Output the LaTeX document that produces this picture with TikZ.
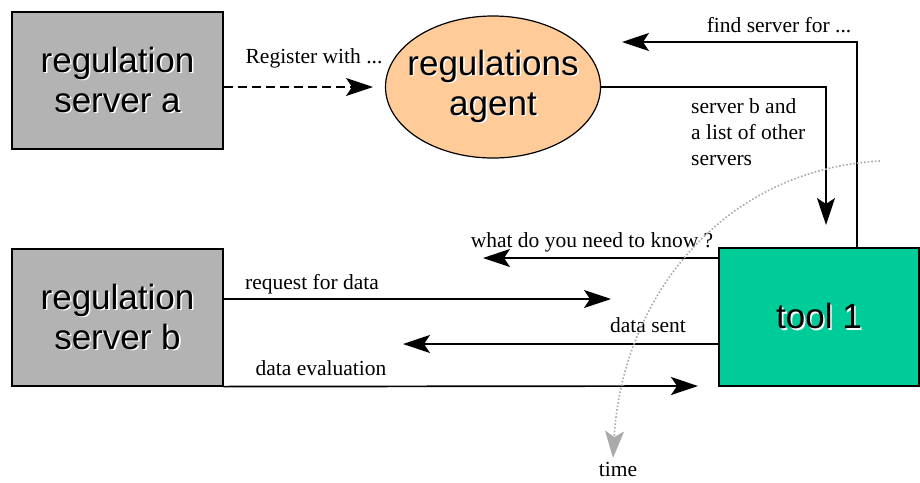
\documentclass[tikz,border=0pt]{standalone}
\usepackage{fontspec}
\setmainfont{Liberation Serif}
\newfontfamily\boxfont{Liberation Sans}
\usetikzlibrary{arrows.meta,shapes.geometric}

\definecolor{servergray}{RGB}{179,179,179}
\definecolor{agentorange}{RGB}{255,204,153}
\definecolor{toolgreen}{RGB}{0,204,153}
\definecolor{timegray}{RGB}{170,170,170}

% text with a light offset shadow
\newcommand\shadowed[1]{\rlap{\hspace{1.6pt}\raisebox{-1.6pt}{\color{white}#1}}#1}

\tikzset{
  bigtext/.style={font=\boxfont\fontsize{35}{40}\selectfont, align=center, inner sep=0pt},
  srvbox/.style={draw=black, line width=1.2pt, fill=servergray, minimum width=211pt,
    minimum height=137pt, bigtext},
  agentshape/.style={ellipse, draw=black, line width=1.2pt, fill=agentorange,
    minimum width=215pt, minimum height=142pt, inner sep=0pt},
  toolbox/.style={draw=black, line width=1.2pt, fill=toolgreen, minimum width=200pt,
    minimum height=138pt, bigtext},
  msg/.style={line width=1.7pt, -{Stealth[length=27pt,width=18pt,inset=6pt]}},
  lbl/.style={font=\fontsize{21.5}{26}\selectfont, inner sep=0pt, anchor=base},
  timeline/.style={draw=timegray, line width=1.6pt, dotted,
    -{Stealth[length=27pt,width=19pt,inset=6pt,color=timegray]}},
}

\begin{document}
\begin{tikzpicture}[x=1pt,y=-1pt]
\useasboundingbox (0,0) rectangle (920,482);

% participants
\node[srvbox] (srva) at (117.5,80.5) {\shadowed{regulation}\\\shadowed{server a}};
\node[srvbox] (srvb) at (117.5,317.5) {\shadowed{regulation}\\\shadowed{server b}};
\node[agentshape] (agent) at (493,87) {};
\node[bigtext] (agenttext) at (agent.center) {\shadowed{regulations}\\\shadowed{agent}};
\node[toolbox] (tool) at (819,317) {\shadowed{tool 1}};

% free ends of the messages
\coordinate (regTip) at (373,87);
\coordinate (findCorner) at (857,42);
\coordinate (findTip) at (622,42);
\coordinate (listTip) at (826,225);
\coordinate (askTip) at (483,258);
\coordinate (reqTip) at (611,299);
\coordinate (sentTip) at (403,344);
\coordinate (evalTip) at (698,386);

% messages
\draw[msg, dash pattern=on 9pt off 5pt] (srva.east |- regTip) -- (regTip);
\draw[msg] (findCorner |- tool.north) -- (findCorner) -- (findTip);
\draw[msg] (agent.east) -| (listTip);
\draw[msg] (tool.west |- askTip) -- (askTip);
\draw[msg] (srvb.east |- reqTip) -- (reqTip);
\draw[msg] (tool.west |- sentTip) -- (sentTip);
\draw[msg] (srvb.south east) -- (evalTip);

% labels
\node[lbl] (lreg) at (314,63) {Register with ...};
\node[lbl] (lfind) at (779,32) {find server for ...};
\node[lbl, anchor=base west, align=left] (llist) at (691,165)
  {server b and\\a list of other\\servers};
\node[lbl] (lask) at (592,247) {what do you need to know ?};
\node[lbl] (lreq) at (312,289) {request for data};
\node[lbl] (lsent) at (648,332) {data sent};
\node[lbl] (leval) at (321,375) {data evaluation};

% time axis
\coordinate (timeStart) at (880,161);
\coordinate (timeTip) at (613,458);
\draw[timeline] (timeStart) .. controls (720,170) and (622,300) .. (timeTip);
\node[lbl] (ltime) at (618,476.5) {time};
\end{tikzpicture}
\end{document}
